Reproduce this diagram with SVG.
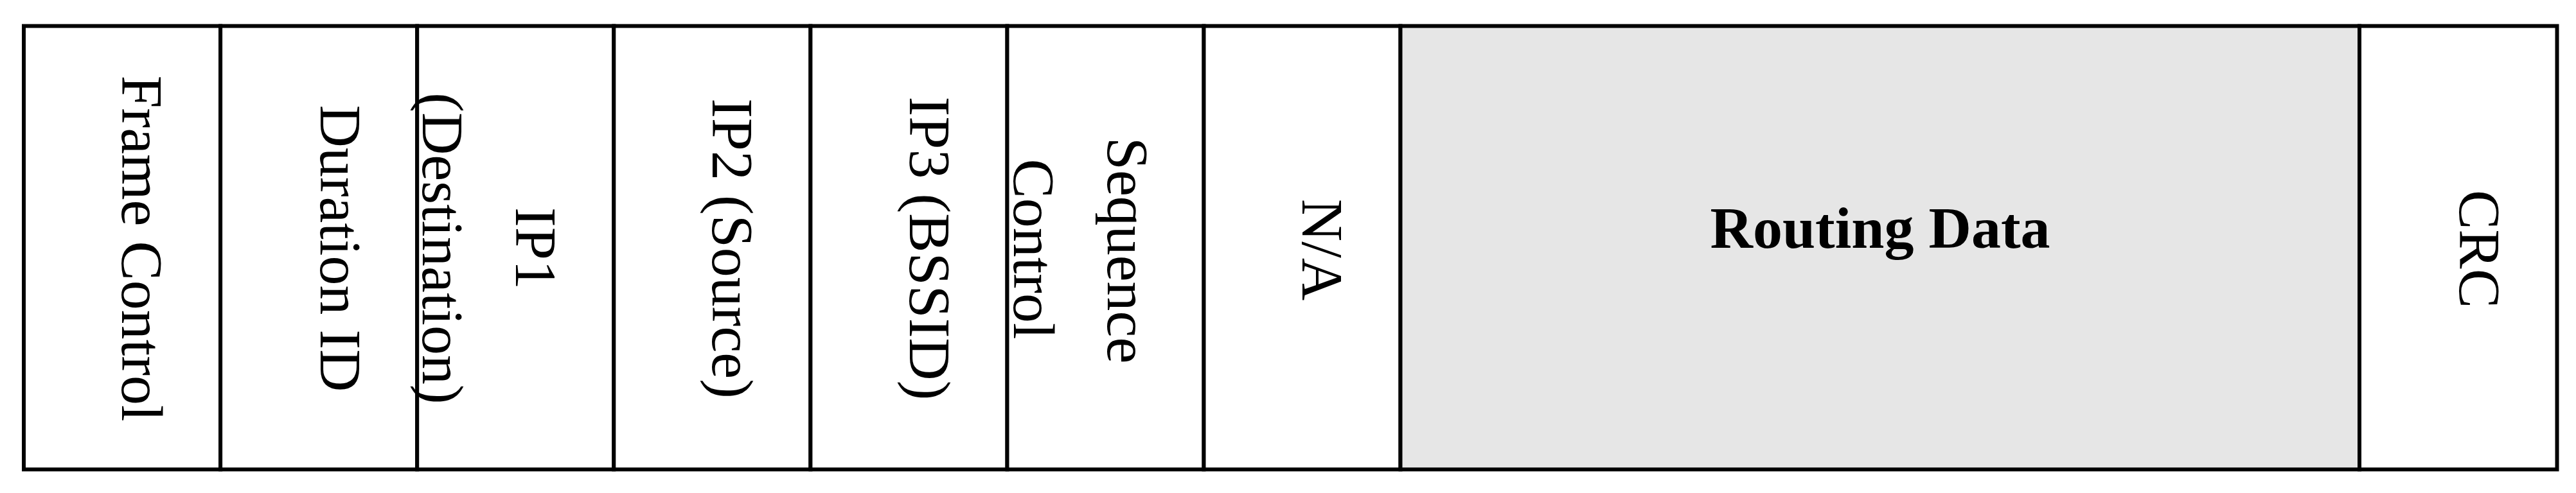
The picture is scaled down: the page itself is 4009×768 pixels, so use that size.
<svg xmlns="http://www.w3.org/2000/svg" width="4009" height="768" viewBox="0 0 4009 768">
  <style>
    .cell { stroke: #000; stroke-width: 6; fill: #fff; }
    .gray { fill: #e6e6e6; }
    .lbl { font-family: "Liberation Serif", "Times New Roman", serif; font-size: 92px; fill: #000; text-anchor: middle; }
    .bold { font-weight: bold; }
  </style>
  <rect x="0" y="0" width="4009" height="768" fill="#fff"/>
  <g id="nodes">
    <g id="frame-control">
      <rect class="cell" x="37" y="40.5" width="306.1" height="690.8"/>
      <text class="lbl" transform="translate(190,387) rotate(90)">Frame Control</text>
    </g>
    <g id="duration-id">
      <rect class="cell" x="343.1" y="40.5" width="306.1" height="690.8"/>
      <text class="lbl" transform="translate(499,387) rotate(90)">Duration ID</text>
    </g>
    <g id="ip1">
      <rect class="cell" x="649.2" y="40.5" width="306.1" height="690.8"/>
      <text class="lbl" transform="translate(803,387) rotate(90)">IP1</text>
      <text class="lbl" transform="translate(658,387) rotate(90)">(Destination)</text>
    </g>
    <g id="ip2">
      <rect class="cell" x="955.3" y="40.5" width="306.1" height="690.8"/>
      <text class="lbl" transform="translate(1109,387) rotate(90)">IP2 (Source)</text>
    </g>
    <g id="ip3">
      <rect class="cell" x="1261.4" y="40.5" width="306.1" height="690.8"/>
      <text class="lbl" transform="translate(1416,387) rotate(90)">IP3 (BSSID)</text>
    </g>
    <g id="sequence-control">
      <rect class="cell" x="1567.5" y="40.5" width="306" height="690.8"/>
      <text class="lbl" transform="translate(1724,390) rotate(90)">Sequence</text>
      <text class="lbl" transform="translate(1578,388) rotate(90)">Control</text>
    </g>
    <g id="na">
      <rect class="cell" x="1873.5" y="40.5" width="306" height="690.8"/>
      <text class="lbl" transform="translate(2027,389) rotate(90)">N/A</text>
    </g>
    <g id="routing-data">
      <rect class="cell gray" x="2179.5" y="40.5" width="1492.5" height="690.8"/>
      <text class="lbl bold" x="2926" y="386">Routing Data</text>
    </g>
    <g id="crc">
      <rect class="cell" x="3672" y="40.5" width="307.5" height="690.8"/>
      <text class="lbl" transform="translate(3828,388) rotate(90)">CRC</text>
    </g>
  </g>
  <g id="connectors"></g>
</svg>
